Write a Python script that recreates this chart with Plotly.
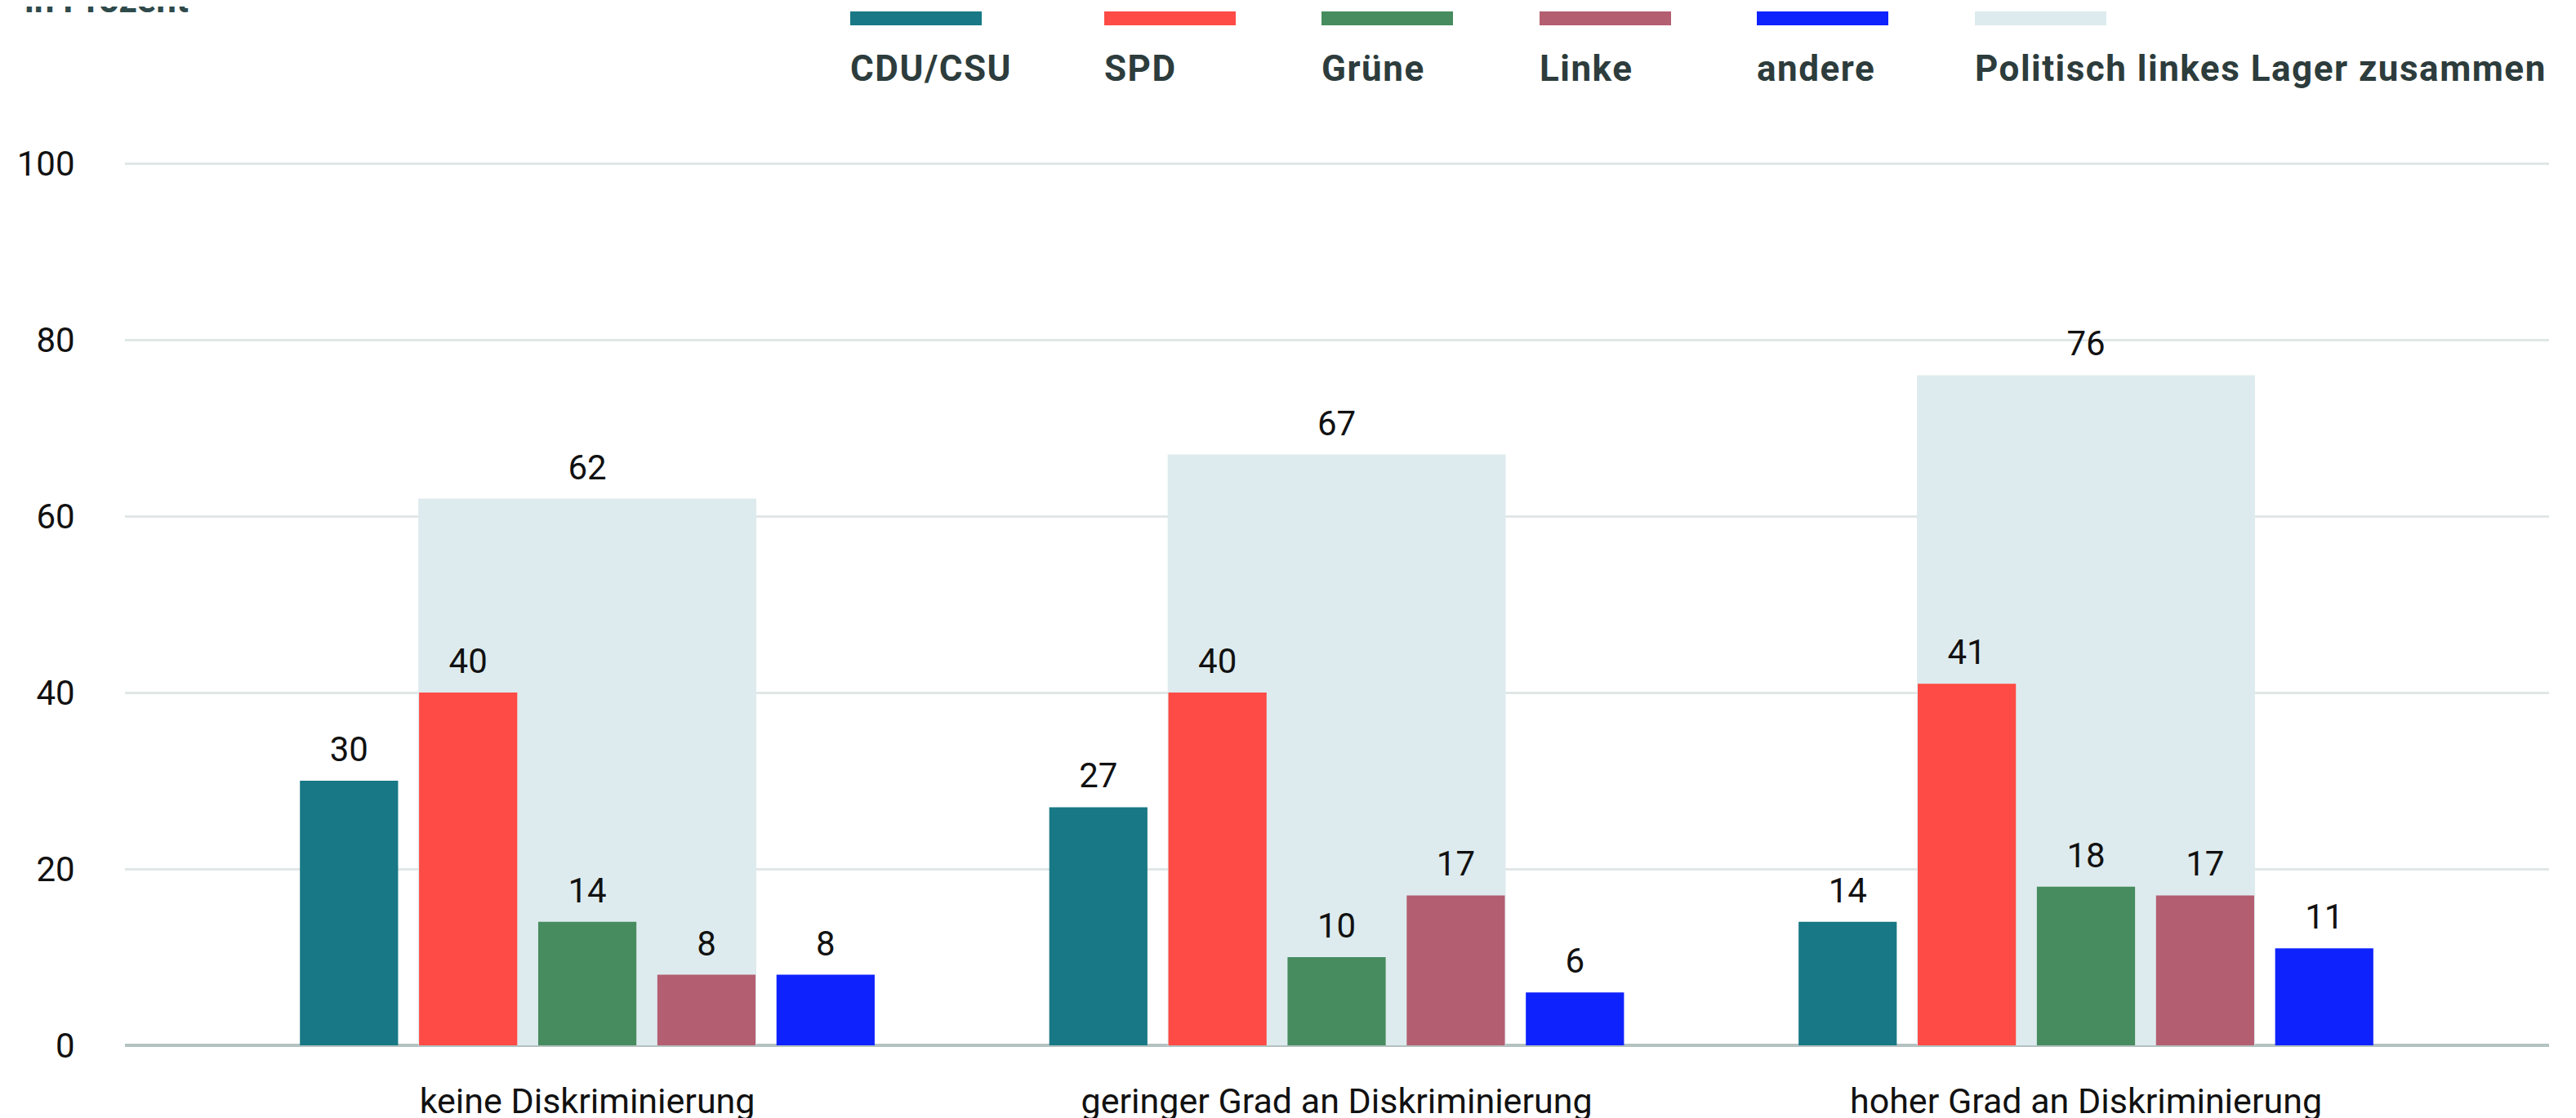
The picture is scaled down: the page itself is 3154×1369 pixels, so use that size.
import plotly.graph_objects as go

# ---------------- data ----------------
categories = ["keine Diskriminierung", "geringer Grad an Diskriminierung", "hoher Grad an Diskriminierung"]
parties = ["CDU/CSU", "SPD", "Grüne", "Linke", "andere"]
cdu = [30, 27, 14]
spd = [40, 40, 41]
gruene = [14, 10, 18]
linke = [8, 17, 17]
andere = [8, 6, 11]
links_zusammen = [62, 67, 76]
lager_name = "Politisch linkes Lager zusammen"
y_ticks = [0, 20, 40, 60, 80, 100]
title_text = "in Prozent"

# ---------------- styles ----------------
colors = ["#187885", "#fe4b45", "#478c5e", "#b45e71", "#0e22fe"]
lager_color = "#ddebee"
FONT = "Roboto"
OFF = 8                      # default page body margin
W, H = 3154 - OFF, 1369 - OFF
ML, MR, MT, MB = 145, 33, 189, 89
PW = W - ML - MR
PH = H - MT - MB
YMAX = 100.3
BARGAP = 0.205

series = [cdu, spd, gruene, linke, andere]
label_font = dict(family=FONT, size=42, color="#111111")

fig = go.Figure()

# background "left camp" bar on base axes
fig.add_trace(go.Bar(
    x=categories, y=links_zusammen, name=lager_name,
    marker=dict(color=lager_color, line=dict(width=0)),
    width=0.451, showlegend=False, hoverinfo="skip",
    xaxis="x", yaxis="y",
))
# its value label
fig.add_trace(go.Scatter(
    x=categories, y=links_zusammen, mode="markers+text",
    text=links_zusammen, textposition="top center", textfont=label_font,
    marker=dict(size=20, color="rgba(0,0,0,0)"),
    cliponaxis=False, showlegend=False, hoverinfo="skip",
    xaxis="x", yaxis="y",
))

for name, vals, col in zip(parties, series, colors):
    fig.add_trace(go.Bar(
        x=categories, y=vals, name=name,
        marker=dict(color=col, line=dict(width=0)),
        showlegend=False, xaxis="x2", yaxis="y",
    ))

for name, vals in zip(parties, series):
    fig.add_trace(go.Scatter(
        x=categories, y=vals, name=name, mode="markers+text",
        text=vals, textposition="top center", textfont=label_font,
        marker=dict(size=20, color="rgba(0,0,0,0)"),
        cliponaxis=False, showlegend=False, hoverinfo="skip",
        xaxis="x3", yaxis="y",
    ))

xr = [-0.617, 2.618]
fig.update_layout(
    width=W, height=H,
    margin=dict(l=ML, r=MR, t=MT, b=MB),
    paper_bgcolor="white", plot_bgcolor="white",
    barmode="group", bargap=BARGAP, bargroupgap=0.176,
    scattermode="group", scattergap=BARGAP,
    font=dict(family=FONT, size=42, color="#111111"),
    xaxis=dict(type="category", range=xr, showgrid=False, showline=False,
               zeroline=False, ticks="outside", ticklen=30,
               tickcolor="rgba(0,0,0,0)", automargin=False,
               tickfont=dict(family=FONT, size=43, color="#111111")),
    xaxis2=dict(type="category", range=xr, overlaying="x", visible=False),
    xaxis3=dict(type="category", range=xr, overlaying="x", visible=False),
    yaxis=dict(range=[0, YMAX], tickvals=y_ticks, showgrid=True,
               gridcolor="#e1e7e7", gridwidth=3, zeroline=True,
               zerolinecolor="#b4c1c1", zerolinewidth=4, showline=False,
               ticks="outside", ticklen=52, tickcolor="rgba(0,0,0,0)",
               automargin=False,
               tickfont=dict(family=FONT, size=42, color="#111111")),
)

# helpers: page pixel -> paper coordinates
def px_to_paper_x(px):
    return (px - OFF - ML) / PW

def px_to_paper_y(py):
    return (H - MB - (py - OFF)) / PH

# title (mostly cut off at the top, as in the reference)
fig.add_annotation(text="<b>" + title_text + "</b>", xref="paper", yref="paper",
                   x=px_to_paper_x(28), y=px_to_paper_y(28), xanchor="left",
                   yanchor="bottom", showarrow=False,
                   font=dict(family=FONT, size=44, color="#2f4a4b"))

# custom legend: swatch above label
legend_names = parties + [lager_name]
legend_colors = colors + [lager_color]
legend_px = [1041, 1352, 1618, 1885, 2151, 2418]
for nm, col, lx in zip(legend_names, legend_colors, legend_px):
    fig.add_shape(type="rect", xref="paper", yref="paper",
                  x0=px_to_paper_x(lx), x1=px_to_paper_x(lx + 161),
                  y0=px_to_paper_y(31), y1=px_to_paper_y(14),
                  fillcolor=col, line=dict(width=0), layer="above")
    fig.add_annotation(text="<span style='letter-spacing:1.5px'><b>" + nm + "</b></span>",
                       xref="paper", yref="paper",
                       x=px_to_paper_x(lx - 2), y=px_to_paper_y(56),
                       xanchor="left", yanchor="top", showarrow=False,
                       font=dict(family=FONT, size=44, color="#2d3c3c"))

fig.write_html("out.html")
